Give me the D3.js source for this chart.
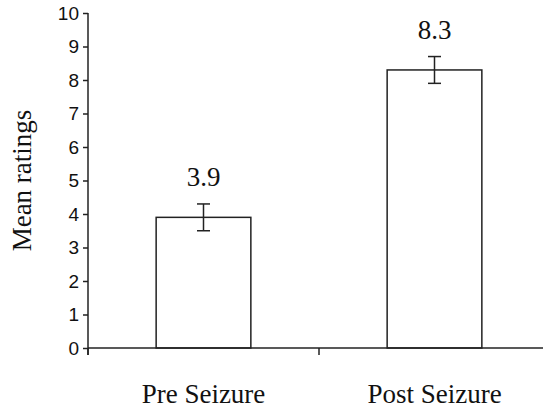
<!DOCTYPE html>
<html><head><meta charset="utf-8">
<script src="https://cdn.jsdelivr.net/npm/d3@7"></script>
<style>body{margin:0;background:#fff;}svg{display:block;}</style>
</head><body>
<svg id="chart" width="543" height="410"></svg>
<script>
const categories = ["Pre Seizure", "Post Seizure"];
const means = [3.9, 8.3];
const errors = [0.4, 0.4];
const yTicks = [0,1,2,3,4,5,6,7,8,9,10];
const yTitle = "Mean ratings";

const svg = d3.select("#chart");
const ink = "#222";
const serif = "'Liberation Serif', 'Times New Roman', serif";
const sans = "'Liberation Sans', Arial, sans-serif";
const x = d3.scaleBand().domain(categories).range([88, 550]).paddingInner(0.59).paddingOuter(0.295);
const y = d3.scaleLinear().domain([0, 10]).range([348, 13]);

// y axis
const ya = svg.append("g").attr("transform", "translate(88,0)")
  .call(d3.axisLeft(y).tickValues(yTicks).tickSize(5).tickPadding(4).tickFormat(d3.format("d")));
ya.attr("font-family", sans).attr("font-size", 19);
ya.select(".domain").attr("stroke", ink).attr("stroke-width", 1.5).attr("d", `M0,${y(10)}V${y(0)+7}`);
ya.selectAll(".tick line").attr("stroke", ink).attr("stroke-width", 1.5);
ya.selectAll(".tick text").attr("font-family", sans).attr("font-size", 19).attr("fill", "#111");

// bars
svg.selectAll("rect.bar").data(categories).join("rect").attr("class", "bar")
  .attr("x", d => x(d)).attr("width", x.bandwidth())
  .attr("y", (d, i) => y(means[i])).attr("height", (d, i) => y(0) - y(means[i]))
  .attr("fill", "#fff").attr("stroke", ink).attr("stroke-width", 1.5);

// x axis baseline with boundary ticks
const step = x.step();
const xa = svg.append("g");
xa.append("line").attr("x1", 88).attr("x2", 550).attr("y1", y(0)).attr("y2", y(0)).attr("stroke", ink).attr("stroke-width", 1.5);
const bounds = d3.range(categories.length).map(i => 88 + i * step);
xa.selectAll("line.tk").data(bounds).join("line").attr("class", "tk")
  .attr("x1", d => d).attr("x2", d => d).attr("y1", y(0)).attr("y2", y(0) + 7)
  .attr("stroke", ink).attr("stroke-width", 1.5);
xa.selectAll("text").data(categories).join("text")
  .attr("x", d => x(d) + x.bandwidth() / 2).attr("y", 403)
  .attr("text-anchor", "middle").attr("font-family", serif)
  .attr("font-size", 27).attr("fill", "#111").text(d => d);

// error bars
const cap = 6.5;
const eb = svg.append("g").attr("stroke", ink).attr("stroke-width", 1.5);
categories.forEach((c, i) => {
  const cx = x(c) + x.bandwidth() / 2;
  const top = y(means[i] + errors[i]), bot = y(means[i] - errors[i]);
  eb.append("line").attr("x1", cx).attr("x2", cx).attr("y1", top).attr("y2", bot);
  eb.append("line").attr("x1", cx - cap).attr("x2", cx + cap).attr("y1", top).attr("y2", top);
  eb.append("line").attr("x1", cx - cap).attr("x2", cx + cap).attr("y1", bot).attr("y2", bot);
});

// value labels
svg.selectAll("text.val").data(categories).join("text").attr("class", "val")
  .attr("x", d => x(d) + x.bandwidth() / 2).attr("y", (d, i) => y(means[i]) - 31)
  .attr("text-anchor", "middle").attr("font-family", serif)
  .attr("font-size", 27).attr("fill", "#111").text((d, i) => means[i].toFixed(1));

// y title
svg.append("text").attr("transform", `translate(31,${(y(0) + y(10)) / 2}) rotate(-90)`)
  .attr("text-anchor", "middle").attr("font-family", serif)
  .attr("font-size", 27).attr("fill", "#111").text(yTitle);
</script>
</body></html>
